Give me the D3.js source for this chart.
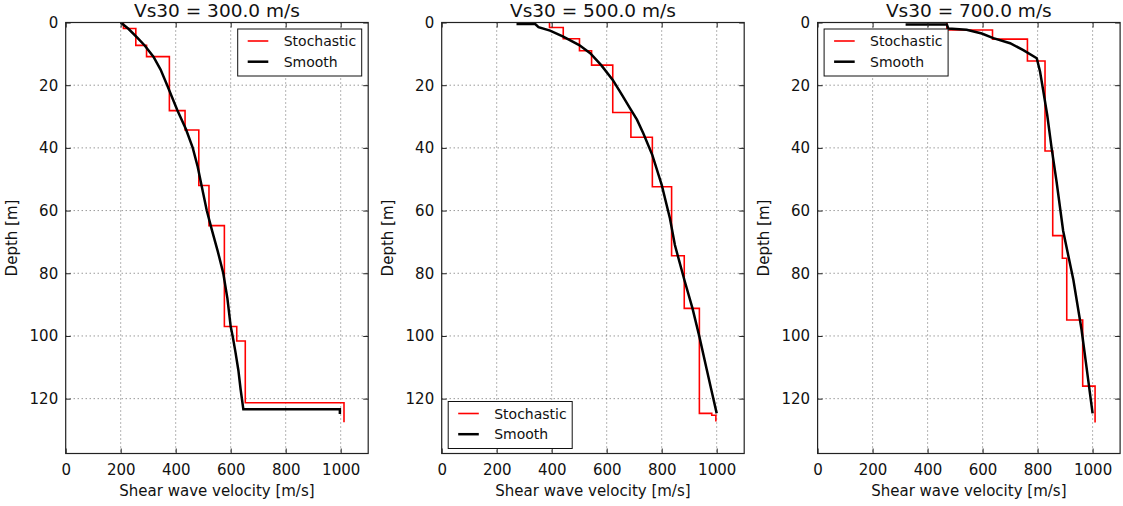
<!DOCTYPE html>
<html>
<head>
<meta charset="utf-8">
<script src="https://cdn.jsdelivr.net/npm/d3@7"></script>
<style>
  body { margin: 0; background: #fff; }
  svg { display: block; font-family: "DejaVu Sans", sans-serif; }
</style>
</head>
<body>
<svg id="chart" width="1123" height="506"></svg>
<script>
// ---- data ----
const vs30Values = [300.0, 500.0, 700.0];
const xTicks = [0, 200, 400, 600, 800, 1000];
const yTicks = [0, 20, 40, 60, 80, 100, 120];
const legendPlaces = ["upper right", "lower left", "upper left"];

// stochastic profiles: depth of each layer top [m] and its velocity [m/s]
const stochTop300 = [0, 1.9, 7.3, 10.9, 28.1, 34.3, 52.0, 64.8, 97.0, 101.6, 121.3];
const stochVs300 = [210, 255, 294, 377, 434, 484, 521, 577, 622, 653, 1012];
const stochTop500 = [0, 1.6, 5.2, 9.0, 13.6, 28.7, 36.6, 52.4, 74.4, 91.2, 124.7, 125.3];
const stochVs500 = [392, 442, 501, 545, 622, 688, 766, 836, 882, 937, 982, 997];
const stochTop700 = [0, 2.4, 5.3, 12.3, 41.0, 68.0, 75.2, 94.9, 116.0];
const stochVs700 = [470, 636, 763, 827, 855, 890, 906, 964, 1009];
const stochBottom = [127.5, 127.3, 127.6];

// smooth profiles: depth [m] and velocity [m/s] along the curve
const smoothDepth300 = [0, 2, 5, 7.4, 10.9, 15, 20, 28, 34, 40, 46, 52, 60, 66, 73, 80, 88, 97, 100, 105, 111, 117, 123.4, 123.4, 124.9];
const smoothVs300 = [200, 228, 262, 288, 319, 345, 369, 406, 437, 462, 480, 494, 513, 531, 553, 573, 588, 600, 607, 617, 628, 636, 646, 997, 997];
const smoothDepth500 = [0.5, 0.5, 1.5, 2.6, 4.5, 7.2, 9.8, 13.6, 18.3, 23, 27.4, 31, 35.3, 42.3, 51.8, 62.5, 71, 82, 91.2, 100.2, 110.8, 117, 124.7];
const smoothVs500 = [272, 340, 352, 394, 442, 500, 540, 580, 622, 655, 685, 710, 733, 766, 800, 830, 848, 882, 912, 937, 964, 980, 1000];
const smoothDepth700 = [0.6, 0.6, 1.9, 2.3, 3.5, 5, 6.6, 8.8, 11.4, 15.7, 22, 29.5, 40.1, 50.8, 66.5, 82.1, 98.1, 114, 124.7];
const smoothVs700 = [320, 470, 475, 542, 597, 639, 700, 748, 797, 809, 821, 835, 851, 869, 893, 930, 960, 984, 1000];

const stochTops = [stochTop300, stochTop500, stochTop700];
const stochVs = [stochVs300, stochVs500, stochVs700];
const smoothDepths = [smoothDepth300, smoothDepth500, smoothDepth700];
const smoothVs = [smoothVs300, smoothVs500, smoothVs700];

// ---- layout ----
const panelLefts = [65.7, 441.7, 817.6];
const panelW = 302.5;
const panelTop = 22.5;
const panelH = 431;

const svg = d3.select("#chart");

vs30Values.forEach((vs30, i) => {
  const left = panelLefts[i];
  const x = d3.scaleLinear().domain([0, 1100]).range([0, panelW]);
  const y = d3.scaleLinear().domain([0, 137.5]).range([0, panelH]);

  const g = svg.append("g").attr("transform", `translate(${left},${panelTop})`);

  // dotted grid
  g.append("g")
    .selectAll("line")
    .data(xTicks.filter((t) => t > 0))
    .join("line")
    .attr("x1", (d) => x(d)).attr("x2", (d) => x(d))
    .attr("y1", 0).attr("y2", panelH)
    .attr("stroke", "#444").attr("stroke-width", 0.8)
    .attr("stroke-dasharray", "1,3");
  g.append("g")
    .selectAll("line")
    .data(yTicks.filter((t) => t > 0))
    .join("line")
    .attr("x1", 0).attr("x2", panelW)
    .attr("y1", (d) => y(d)).attr("y2", (d) => y(d))
    .attr("stroke", "#444").attr("stroke-width", 0.8)
    .attr("stroke-dasharray", "1,3");

  // clip to the axes box
  g.append("clipPath").attr("id", "clip" + i)
    .append("rect").attr("width", panelW).attr("height", panelH);
  const plot = g.append("g").attr("clip-path", `url(#clip${i})`);

  // stochastic profile as steps
  const stochPts = stochTops[i].map((d, k) => [stochVs[i][k], d]);
  stochPts.push([stochVs[i][stochVs[i].length - 1], stochBottom[i]]);
  plot.append("path")
    .datum(stochPts)
    .attr("fill", "none")
    .attr("stroke", "#ff0000")
    .attr("stroke-width", 1.6)
    .attr("d", d3.line().x((d) => x(d[0])).y((d) => y(d[1])).curve(d3.curveStepBefore));

  // smooth profile
  const smoothPts = smoothDepths[i].map((d, k) => [smoothVs[i][k], d]);
  plot.append("path")
    .datum(smoothPts)
    .attr("fill", "none")
    .attr("stroke", "#000")
    .attr("stroke-width", 2.5)
    .attr("stroke-linejoin", "miter")
    .attr("d", d3.line().x((d) => x(d[0])).y((d) => y(d[1])));

  // inward ticks on all sides
  const fmt = d3.format("d");
  const axB = g.append("g").attr("transform", `translate(0,${panelH})`)
    .call(d3.axisBottom(x).tickValues(xTicks).tickSize(-5).tickPadding(11).tickFormat(fmt));
  const axT = g.append("g")
    .call(d3.axisTop(x).tickValues(xTicks).tickSize(-5).tickFormat(""));
  const axL = g.append("g")
    .call(d3.axisLeft(y).tickValues(yTicks).tickSize(-5).tickPadding(7.5).tickFormat(fmt));
  const axR = g.append("g").attr("transform", `translate(${panelW},0)`)
    .call(d3.axisRight(y).tickValues(yTicks).tickSize(-5).tickFormat(""));
  [axB, axT, axL, axR].forEach((a) => {
    a.select(".domain").remove();
    a.selectAll(".tick line").attr("stroke", "#222");
    a.selectAll("text").attr("font-size", 15).attr("fill", "#111")
      .attr("font-family", "DejaVu Sans, sans-serif");
  });

  // frame
  g.append("rect")
    .attr("width", panelW).attr("height", panelH)
    .attr("fill", "none").attr("stroke", "#222").attr("stroke-width", 1.2);

  // title and axis labels
  g.append("text")
    .attr("x", panelW / 2).attr("y", 17 - panelTop)
    .attr("text-anchor", "middle").attr("font-size", 18.5).attr("fill", "#111")
    .text(`Vs30 = ${vs30.toFixed(1)} m/s`);
  g.append("text")
    .attr("x", panelW / 2).attr("y", 496 - panelTop)
    .attr("text-anchor", "middle").attr("font-size", 15).attr("fill", "#111")
    .text("Shear wave velocity [m/s]");
  g.append("text")
    .attr("transform", `translate(-48.5,${panelH / 2}) rotate(-90)`)
    .attr("text-anchor", "middle").attr("font-size", 15).attr("fill", "#111")
    .text("Depth [m]");

  // legend
  const lw = 124, lh = 47;
  const place = legendPlaces[i];
  const lx = place.includes("right") ? panelW - 6.5 - lw : 6.5;
  const ly = place.includes("upper") ? 6.5 : panelH - 5 - lh;
  const leg = g.append("g").attr("transform", `translate(${lx},${ly})`);
  leg.append("rect").attr("width", lw).attr("height", lh)
    .attr("fill", "#fff").attr("stroke", "#111").attr("stroke-width", 1);
  const items = [
    { label: "Stochastic", color: "#ff0000", w: 1.6 },
    { label: "Smooth", color: "#000", w: 2.5 },
  ];
  items.forEach((it, k) => {
    const yy = 12 + k * 20.7;
    leg.append("line").attr("x1", 10).attr("x2", 30.6).attr("y1", yy).attr("y2", yy)
      .attr("stroke", it.color).attr("stroke-width", it.w);
    leg.append("text").attr("x", 46).attr("y", yy).attr("dy", "0.36em")
      .attr("font-size", 14).attr("fill", "#111").text(it.label);
  });
});
</script>
</body>
</html>
